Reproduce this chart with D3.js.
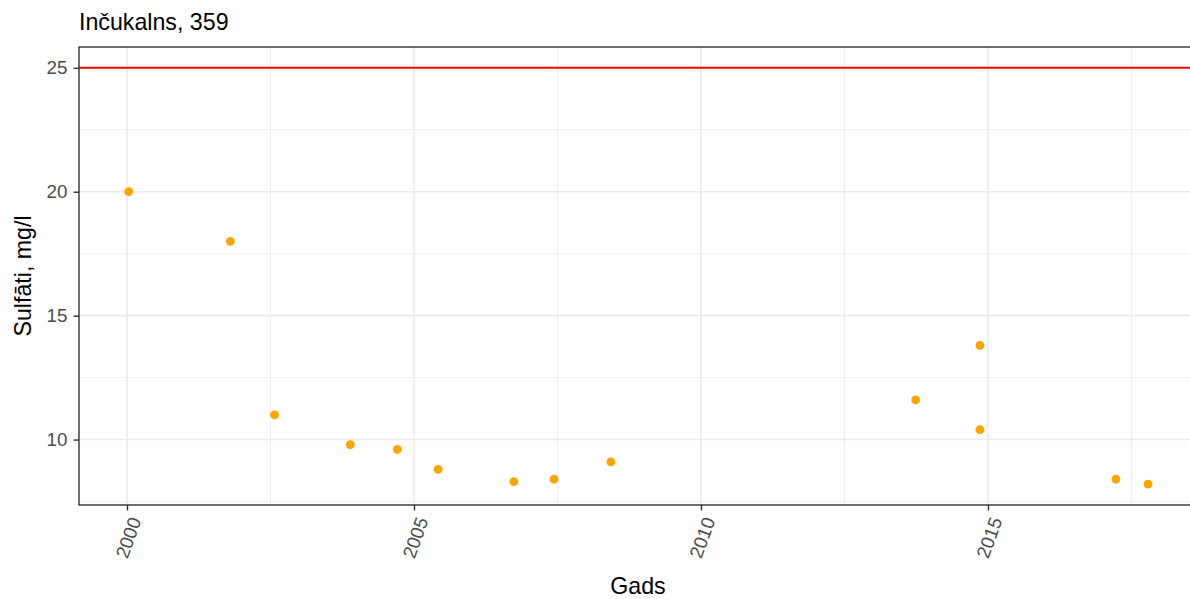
<!DOCTYPE html>
<html>
<head>
<meta charset="utf-8">
<script src="https://cdn.jsdelivr.net/npm/d3@7"></script>
<style>
  html, body { margin: 0; padding: 0; background: #fff; }
  svg { display: block; font-family: "Liberation Sans", Arial, sans-serif; }
</style>
</head>
<body>
<svg id="chart" width="1190" height="599"></svg>
<script>
// Sulfate measurements at Inčukalns, station 359
const years = [2000.03, 2001.80, 2002.57, 2003.89, 2004.71, 2005.42, 2006.74, 2007.44, 2008.43, 2013.74, 2014.86, 2014.86, 2017.23, 2017.79];
const sulfates = [20, 18, 11, 9.8, 9.6, 8.8, 8.3, 8.4, 9.1, 11.6, 13.8, 10.4, 8.4, 8.2];
const limitValue = [25];
const xTicks = [2000, 2005, 2010, 2015];
const xMinor = [2002.5, 2007.5, 2012.5, 2017.5];
const yTicks = [10, 15, 20, 25];
const yMinor = [7.5, 12.5, 17.5, 22.5];
const titleText = "Inčukalns, 359";
const xTitle = "Gads";
const yTitle = "Sulfāti, mg/l";

const svg = d3.select("#chart");
const panel = { left: 79, top: 47, right: 1190, bottom: 505 };
const tickFont = "18.8px";
const titleFont = "23.2px";

const x = d3.scaleLinear().domain([1999.164, 2018.52]).range([panel.left, panel.right]);
const y = d3.scaleLinear().domain([7.36, 25.84]).range([panel.bottom, panel.top]);

const grid = svg.append("g");
grid.selectAll("line.ymin").data(yMinor).join("line")
  .attr("x1", panel.left).attr("x2", panel.right)
  .attr("y1", d => y(d)).attr("y2", d => y(d))
  .attr("stroke", "#EBEBEB").attr("stroke-width", 0.8);
grid.selectAll("line.xmin").data(xMinor).join("line")
  .attr("y1", panel.top).attr("y2", panel.bottom)
  .attr("x1", d => x(d)).attr("x2", d => x(d))
  .attr("stroke", "#EBEBEB").attr("stroke-width", 0.8);
grid.selectAll("line.ymaj").data(yTicks).join("line")
  .attr("x1", panel.left).attr("x2", panel.right)
  .attr("y1", d => y(d)).attr("y2", d => y(d))
  .attr("stroke", "#EBEBEB").attr("stroke-width", 1.6);
grid.selectAll("line.xmaj").data(xTicks).join("line")
  .attr("y1", panel.top).attr("y2", panel.bottom)
  .attr("x1", d => x(d)).attr("x2", d => x(d))
  .attr("stroke", "#EBEBEB").attr("stroke-width", 1.6);

// Limit line
svg.selectAll("line.limit").data(limitValue).join("line")
  .attr("x1", panel.left).attr("x2", panel.right)
  .attr("y1", d => y(d)).attr("y2", d => y(d))
  .attr("stroke", "#FF0000").attr("stroke-width", 2);

// Points
svg.append("g").selectAll("circle").data(years.map((yr, i) => [yr, sulfates[i]])).join("circle")
  .attr("cx", d => x(d[0])).attr("cy", d => y(d[1])).attr("r", 4.4)
  .attr("fill", "#FFA500");

// Panel border
svg.append("rect")
  .attr("x", panel.left).attr("y", panel.top)
  .attr("width", panel.right - panel.left + 4).attr("height", panel.bottom - panel.top)
  .attr("fill", "none").attr("stroke", "#333333").attr("stroke-width", 1.4);

// Y axis
const yAxis = svg.append("g").attr("transform", `translate(${panel.left},0)`)
  .call(d3.axisLeft(y).tickValues(yTicks).tickSize(5.5).tickPadding(6).tickFormat(d3.format("d")));
yAxis.select(".domain").remove();
yAxis.selectAll(".tick line").attr("stroke", "#333333").attr("stroke-width", 1.4);
yAxis.selectAll(".tick text").attr("fill", "#4D4D4D").style("font-size", tickFont)
  .style("font-family", "Liberation Sans, Arial, sans-serif");

// X axis with rotated labels
const xAxis = svg.append("g").attr("transform", `translate(0,${panel.bottom})`)
  .call(d3.axisBottom(x).tickValues(xTicks).tickSize(5.5).tickFormat(d3.format("d")));
xAxis.select(".domain").remove();
xAxis.selectAll(".tick line").attr("stroke", "#333333").attr("stroke-width", 1.4);
xAxis.selectAll(".tick text")
  .attr("fill", "#4D4D4D").style("font-size", tickFont)
  .style("font-family", "Liberation Sans, Arial, sans-serif")
  .attr("text-anchor", "end")
  .attr("x", 0).attr("y", 0).attr("dy", "0.35em")
  .attr("transform", "translate(8,13) rotate(-70)");

// Titles
svg.append("text").attr("x", panel.left).attr("y", 30)
  .style("font-size", titleFont).attr("fill", "#000").text(titleText);
svg.append("text").attr("x", (panel.left + 1197) / 2).attr("y", 594)
  .attr("text-anchor", "middle").style("font-size", titleFont).attr("fill", "#000").text(xTitle);
svg.append("text")
  .attr("transform", `translate(31,${(panel.top + panel.bottom) / 2}) rotate(-90)`)
  .attr("text-anchor", "middle").style("font-size", titleFont).attr("fill", "#000").text(yTitle);
</script>
</body>
</html>
